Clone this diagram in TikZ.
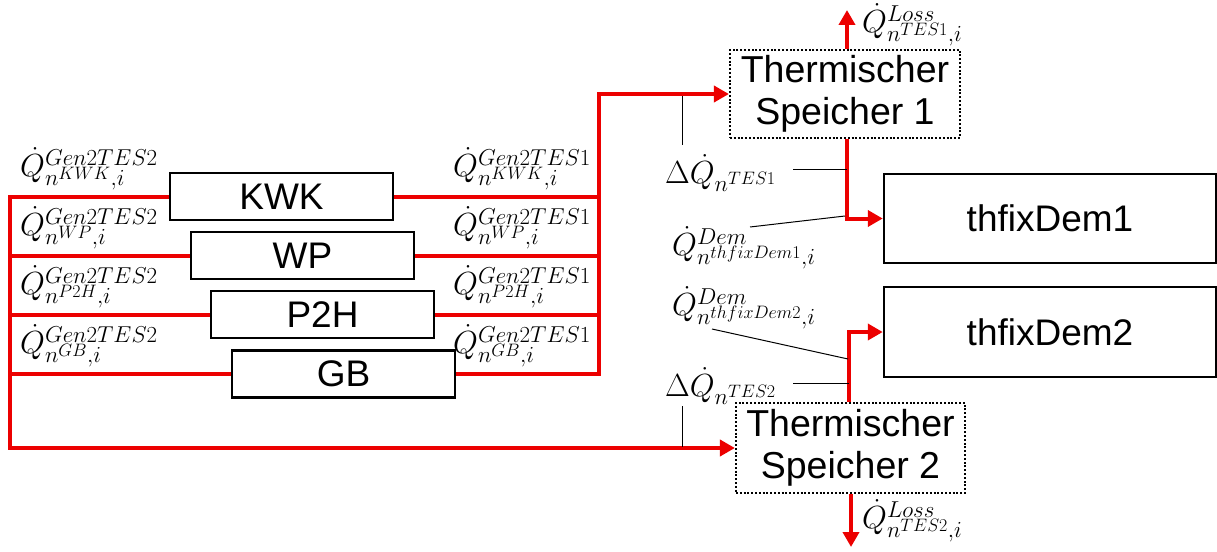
\RequirePackage{fix-cm}
\documentclass[tikz,border=0pt]{standalone}
\usepackage{fontspec}
\setmainfont{Liberation Sans}
\usetikzlibrary{arrows.meta}
\DeclareMathSizes{32}{32}{23}{18}
\definecolor{flowred}{RGB}{236,0,0}
\begin{document}
\begin{tikzpicture}[x=1pt,y=-1pt,
  unit/.style={draw, line width=2.5pt, inner sep=0pt, font=\fontsize{37}{42}\selectfont, align=center},
  store/.style={draw, line width=2.2pt, dash pattern=on 2pt off 1.8pt, inner sep=0pt, font=\fontsize{37.5}{42}\selectfont, align=center},
  flow/.style={flowred, line width=4pt},
  flowarrow/.style={flow, -{Triangle[length=15pt,width=16pt]}},
  pointer/.style={line width=1pt},
  lab/.style={inner sep=0pt, anchor=west, font=\fontsize{32}{36}\selectfont}]
\fill[white] (0,0) rectangle (1217,551);
\useasboundingbox (0,0) rectangle (1217,551);

% generator units
\node[unit, minimum width=223pt, minimum height=47pt] (kwk) at (281.5,196.5) {KWK};
\node[unit, minimum width=223pt, minimum height=47pt] (wp)  at (302.5,255.5) {WP};
\node[unit, minimum width=223pt, minimum height=47pt] (p2h) at (322.5,314.5) {P2H};
\node[unit, minimum width=223pt, minimum height=47pt] (gb)  at (343.5,374) {GB};

% storages
\node[store, minimum width=230pt, minimum height=88pt] (ts1) at (845,94) {Thermischer\\Speicher 1};
\node[store, minimum width=229pt, minimum height=90pt] (ts2) at (850.5,448) {Thermischer\\Speicher 2};

% demands
\node[unit, minimum width=332pt, minimum height=89pt] (d1) at (1050,218.5) {thfixDem1};
\node[unit, minimum width=332pt, minimum height=90pt] (d2) at (1050,332) {thfixDem2};

% bus coordinates
\coordinate (lbot) at (10,448);
\coordinate (rtop) at (599,94);
\coordinate (c1) at (847,0);
\coordinate (c2) at (849,0);
\coordinate (loss1) at (847,10);
\coordinate (loss2) at (851,547);

% left bus to storage 2
\draw[flowarrow] (kwk.west) -| (lbot) -- (ts2.west);
\draw[flow] (wp.west) -- (wp.west -| lbot);
\draw[flow] (p2h.west) -- (p2h.west -| lbot);
\draw[flow] (gb.west) -- (gb.west -| lbot);

% right bus to storage 1
\draw[flowarrow] (gb.east) -| (rtop) -- (ts1.west);
\draw[flow] (kwk.east) -- (kwk.east -| rtop);
\draw[flow] (wp.east) -- (wp.east -| rtop);
\draw[flow] (p2h.east) -- (p2h.east -| rtop);

% storages to demands and losses
\draw[flowarrow] (ts1.south -| c1) |- (d1.west);
\draw[flowarrow] (ts2.north -| c2) |- (d2.west);
\draw[flowarrow] (ts1.north -| loss1) -- (loss1);
\draw[flowarrow] (ts2.south -| loss2) -- (loss2);

% labels left
\node[lab] (g2a) at (20,169) {$\dot{Q}^{Gen2TES2}_{n^{KWK},i}$};
\node[lab] (g2b) at (20,228) {$\dot{Q}^{Gen2TES2}_{n^{WP},i}$};
\node[lab] (g2c) at (20,287) {$\dot{Q}^{Gen2TES2}_{n^{P2H},i}$};
\node[lab] (g2d) at (20,346) {$\dot{Q}^{Gen2TES2}_{n^{GB},i}$};
% labels right
\node[lab] (g1a) at (453,169) {$\dot{Q}^{Gen2TES1}_{n^{KWK},i}$};
\node[lab] (g1b) at (453,228) {$\dot{Q}^{Gen2TES1}_{n^{WP},i}$};
\node[lab] (g1c) at (453,287) {$\dot{Q}^{Gen2TES1}_{n^{P2H},i}$};
\node[lab] (g1d) at (453,346) {$\dot{Q}^{Gen2TES1}_{n^{GB},i}$};

% storage labels
\node[lab] (loss1lab) at (862,25) {$\dot{Q}^{Loss}_{n^{TES1},i}$};
\node[lab] (loss2lab) at (862,521) {$\dot{Q}^{Loss}_{n^{TES2},i}$};
\node[lab] (dq1) at (665,173) {$\Delta\dot{Q}_{n^{TES1}}$};
\node[lab] (dq2) at (665,386) {$\Delta\dot{Q}_{n^{TES2}}$};
\node[lab] (dem1) at (672,248) {$\dot{Q}^{Dem}_{n^{thfixDem1},i}$};
\node[lab] (dem2) at (672,308) {$\dot{Q}^{Dem}_{n^{thfixDem2},i}$};

% pointer lines
\coordinate (p1a) at (682,96);  \coordinate (p1b) at (682,145);
\coordinate (p2a) at (793,169); \coordinate (p2b) at (847,169);
\coordinate (p3a) at (750,227); \coordinate (p3b) at (845,216);
\coordinate (p4a) at (712,329); \coordinate (p4b) at (848,359);
\coordinate (p5a) at (793,383); \coordinate (p5b) at (849,383);
\coordinate (p6a) at (682,406); \coordinate (p6b) at (682,447);
\draw[pointer] (p1a) -- (p1b);
\draw[pointer] (p2a) -- (p2b);
\draw[pointer] (p3a) -- (p3b);
\draw[pointer] (p4a) -- (p4b);
\draw[pointer] (p5a) -- (p5b);
\draw[pointer] (p6a) -- (p6b);
\end{tikzpicture}
\end{document}
